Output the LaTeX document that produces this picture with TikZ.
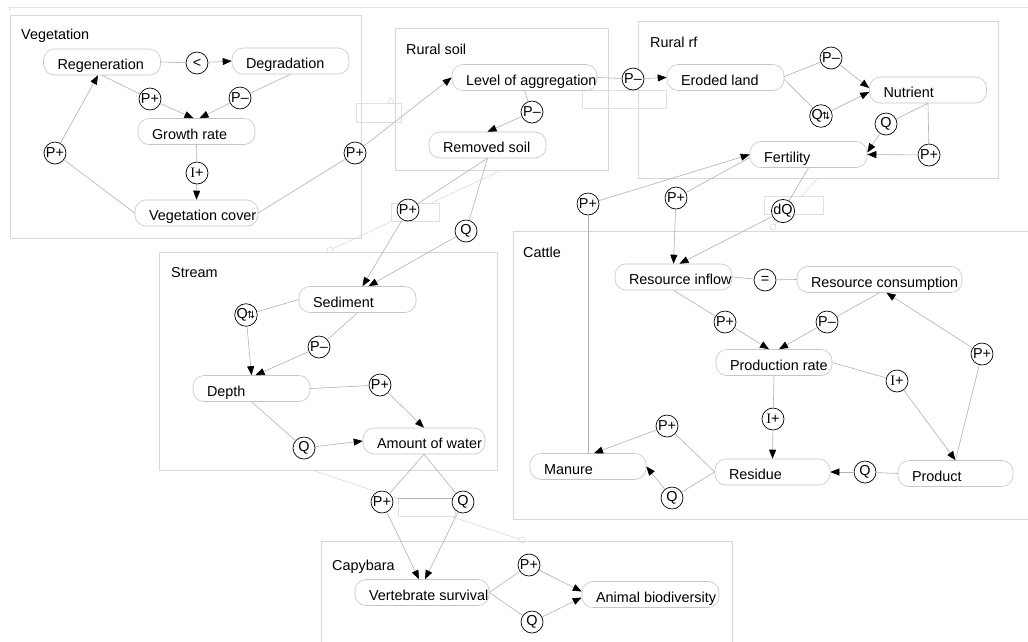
\documentclass[tikz,border=0pt]{standalone}
\usepackage{fontspec}
\setmainfont{Liberation Sans}
\newfontfamily\serifI{Liberation Serif}
\newfontfamily\symfam{DejaVu Sans}
\usetikzlibrary{arrows.meta}
\definecolor{boxgray}{HTML}{D8D8D8}
\definecolor{nodegray}{HTML}{C6C6C6}
\definecolor{linegray}{HTML}{B2B2B2}
\definecolor{faintgray}{HTML}{E0E0E0}
\newcommand\ntext[2][89pt]{\hbox to #1{#2\hss}}
\newcommand\qud{Q\kern-1pt{\symfam\fontsize{10}{10}\selectfont ⇅}}
\newcommand\Iplus{{\serifI I}+}
\begin{document}
\begin{tikzpicture}[x=1pt,y=-1pt,
  every node/.style={font=\fontsize{14.4}{16}\selectfont},
  qnode/.style={draw=nodegray, fill=white, rounded corners=11pt, inner xsep=14pt, inner ysep=0pt, minimum height=26pt, text height=16pt, text depth=1pt, line width=0.6pt},
  qcirc/.style={draw=black, fill=white, circle, inner sep=0pt, minimum size=22pt, line width=0.7pt},
  frame/.style={draw=boxgray, line width=0.8pt},
  conn/.style={draw=linegray, line width=0.6pt},
  arr/.style={conn, -{Triangle[length=9pt,width=7pt,color=black]}},
  faint/.style={draw=faintgray, line width=0.7pt},
  artbox/.style={draw=faintgray, fill=white, line width=0.7pt},
  boxlabel/.style={anchor=west, inner sep=0pt},
]
\useasboundingbox (0,0) rectangle (1028,641);
\clip (0,0) rectangle (1028,641);
\fill[white] (0,0) rectangle (1028,641);

% outer top line
\draw[faint] (9,12) -- (9,7) -- (1040,7);

% interaction lines between subsystems
\coordinate (i1a) at (500,171); \coordinate (i1b) at (330,250);
\coordinate (i2a) at (818,178); \coordinate (i2b) at (773,227);
\coordinate (i3a) at (312,470); \coordinate (i3b) at (522,540);
\draw[faint] (i1a) -- (i1b);
\draw[faint] (i2a) -- (i2b);
\draw[faint] (i3a) -- (i3b);
\draw[faint, fill=white] (i1b) circle (3);
\draw[faint, fill=white] (i2b) circle (3);
\draw[faint, fill=white] (i3b) circle (3);

% leftover label boxes
\draw[artbox] (356,103) rectangle (401,122);
\draw[faint, fill=white] (391,101) circle (2.5);
\draw[artbox] (582,90) rectangle (666,108);
\draw[artbox] (391,203) rectangle (439,221);
\draw[artbox] (764,196) rectangle (823,214);
\draw[artbox] (398,498) rectangle (455,516);
\draw[conn] (398,498) -- (455,498);

% subsystem frames
\draw[frame] (10,15) rectangle (361,238);
\draw[frame] (395,28) rectangle (608,170);
\draw[frame] (638,21) rectangle (998,178);
\draw[frame] (159,252) rectangle (497,470);
\draw[frame] (513,231) rectangle (1040,519);
\draw[frame] (321,541) rectangle (732,660);

\node[boxlabel] (lveg) at (21,36) {Vegetation};
\node[boxlabel] (lrs) at (406,49) {Rural soil};
\node[boxlabel] (lrf) at (650,42) {Rural rf};
\node[boxlabel] (lst) at (171,273) {Stream};
\node[boxlabel] (lca) at (523,252) {Cattle};
\node[boxlabel] (lcy) at (332,567) {Capybara};

% quantities
\node[qnode] (reg) at (102,62) {\ntext{Regeneration}};
\node[qnode] (deg) at (290.5,61) {\ntext{Degradation}};
\node[qnode] (gr) at (196.5,131.5) {\ntext{Growth rate}};
\node[qnode] (vc) at (196.5,213) {\ntext[95pt]{Vegetation cover}};
\node[qnode] (loa) at (524.5,77.5) {\ntext[117pt]{Level of aggregation}};
\node[qnode] (rs) at (487.5,145) {\ntext{Removed soil}};
\node[qnode] (el) at (725.5,77.5) {\ntext{Eroded land}};
\node[qnode] (nut) at (928,90) {\ntext{Nutrient}};
\node[qnode] (fert) at (808.5,154.5) {\ntext{Fertility}};
\node[qnode] (ri) at (673.5,277) {\ntext{Resource inflow}};
\node[qnode] (rc) at (879.5,279.5) {\ntext[137pt]{Resource consumption}};
\node[qnode] (pr) at (774,362.5) {\ntext[88pt]{Production rate}};
\node[qnode] (res) at (772.5,472) {\ntext[87pt]{Residue}};
\node[qnode] (prod) at (955.5,473.5) {\ntext[87pt]{Product}};
\node[qnode] (man) at (588,466.5) {\ntext[88pt]{Manure}};
\node[qnode] (sed) at (357.5,299.5) {\ntext{Sediment}};
\node[qnode] (dep) at (251.5,388.5) {\ntext{Depth}};
\node[qnode] (aw) at (424,441) {\ntext[94pt]{Amount of water}};
\node[qnode] (vs) at (422,592.5) {\ntext[106pt]{Vertebrate survival}};
\node[qnode] (ab) at (650.5,594.5) {\ntext[109pt]{Animal biodiversity}};

% dependencies (circles)
\node[qcirc] (lt) at (197,63) {<};
\node[qcirc] (vp1) at (150,99) {P+};
\node[qcirc] (vm1) at (240,98) {P\textendash};
\node[qcirc] (vi) at (197,173) {\Iplus};
\node[qcirc] (vp2) at (55,153) {P+};
\node[qcirc] (vp3) at (355,153) {P+};
\node[qcirc] (sm1) at (633,79) {P\textendash};
\node[qcirc] (sm2) at (532,112) {P\textendash};
\node[qcirc] (rm) at (831,58) {P\textendash};
\node[qcirc] (rq) at (821,116) {\qud};
\node[qcirc] (rq2) at (886,124) {Q};
\node[qcirc] (rp) at (929,155) {P+};
\node[qcirc] (dq) at (783,211) {dQ};
\node[qcirc] (fp1) at (676,198) {P+};
\node[qcirc] (fp2) at (588,204) {P+};
\node[qcirc] (sp) at (408,210) {P+};
\node[qcirc] (sq) at (466,231) {Q};
\node[qcirc] (qd) at (246,315) {\qud};
\node[qcirc] (pm) at (319,347) {P\textendash};
\node[qcirc] (pp) at (380,385) {P+};
\node[qcirc] (qq) at (304,448) {Q};
\node[qcirc] (ap) at (382,502) {P+};
\node[qcirc] (aq) at (463,502) {Q};
\node[qcirc] (cp) at (529,565) {P+};
\node[qcirc] (cq) at (532,622) {Q};
\node[qcirc] (eq) at (765,280) {=};
\node[qcirc] (cp1) at (725,322) {P+};
\node[qcirc] (cm1) at (827,322) {P\textendash};
\node[qcirc] (ci1) at (897,381) {\Iplus};
\node[qcirc] (ci2) at (773,419) {\Iplus};
\node[qcirc] (cp2) at (982,354) {P+};
\node[qcirc] (cq1) at (865,472) {Q};
\node[qcirc] (cp3) at (667,426) {P+};
\node[qcirc] (cq2) at (672,498) {Q};

% Vegetation
\draw[conn] (reg.east) -- (lt);
\draw[arr] (lt) -- (deg.west);
\draw[conn] (reg.south) -- (vp1);
\draw[arr] (vp1) -- ([xshift=-3pt]gr.north);
\draw[conn] (deg.south) -- (vm1);
\draw[arr] (vm1) -- ([xshift=3pt]gr.north);
\draw[conn] (gr.south) -- (vi);
\draw[arr] (vi) -- (vc.north);
\draw[conn] (vc.west) -- (vp2);
\draw[arr] (vp2) -- ([xshift=-4pt]reg.south);
\draw[conn] (vc.east) -- (vp3);
\draw[arr] (vp3) -- (loa.west);
% Rural soil
\draw[conn] (loa.east) -- (sm1);
\draw[arr] (sm1) -- (el.west);
\draw[conn] (loa.south) -- (sm2);
\draw[arr] (sm2) -- (rs.north);
\draw[conn] (rs.south) -- (sp);
\draw[conn] (rs.south) -- (sq);
\draw[arr] (sp) -- ([xshift=5pt]sed.north);
\draw[arr] (sq) -- ([xshift=11pt]sed.north);
% Rural rf
\draw[conn] ([yshift=1pt]el.east) -- (rm);
\draw[arr] (rm) -- ([yshift=2pt]nut.west);
\draw[conn] ([yshift=-2pt]el.east) -- (rq);
\draw[arr] (rq) -- ([yshift=-2pt]nut.west);
\draw[conn] (nut.south) -- (rq2);
\draw[arr] (rq2) -- ([yshift=2pt]fert.east);
\draw[conn] (nut.south) -- (rp);
\draw[arr] (rp) -- (fert.east);
\draw[conn] (fert.south) -- (dq);
\draw[arr] (dq) -- ([xshift=6pt]ri.north);
\draw[conn] ([yshift=-3pt]fert.west) -- (fp1);
\draw[arr] (fp1) -- (ri.north);
\draw[conn] (man.north) -- (fp2);
\draw[arr] (fp2) -- (fert.west);
% Cattle
\draw[conn] (ri.east) -- (eq);
\draw[conn] (eq) -- (rc.west);
\draw[conn] (ri.south) -- (cp1);
\draw[arr] (cp1) -- ([xshift=-5pt]pr.north);
\draw[conn] (rc.south) -- (cm1);
\draw[arr] (cm1) -- ([xshift=5pt]pr.north);
\draw[conn] (pr.east) -- (ci1);
\draw[arr] (ci1) -- (prod.north);
\draw[conn] (pr.south) -- (ci2);
\draw[arr] (ci2) -- (res.north);
\draw[conn] (prod.north) -- (cp2);
\draw[arr] (cp2) -- ([xshift=7pt]rc.south);
\draw[conn] (prod.west) -- (cq1);
\draw[arr] (cq1) -- (res.east);
\draw[conn] (res.west) -- (cp3);
\draw[arr] (cp3) -- ([xshift=6pt]man.north);
\draw[conn] (res.west) -- (cq2);
\draw[arr] (cq2) -- (man.east);
% Stream
\draw[conn] (sed.west) -- (qd);
\draw[arr] (qd) -- (dep.north);
\draw[conn] (sed.south) -- (pm);
\draw[arr] (pm) -- ([xshift=4pt]dep.north);
\draw[conn] (dep.east) -- (pp);
\draw[arr] (pp) -- (aw.north);
\draw[conn] (dep.south) -- (qq);
\draw[arr] (qq) -- (aw.west);
\draw[conn] (aw.south) -- (ap);
\draw[conn] (aw.south) -- (aq);
\draw[arr] (ap) -- ([xshift=-3pt]vs.north);
\draw[arr] (aq) -- ([xshift=3pt]vs.north);
% Capybara
\draw[conn] (vs.east) -- (cp);
\draw[conn] (vs.east) -- (cq);
\draw[arr] (cp) -- ([yshift=3pt]ab.west);
\draw[arr] (cq) -- ([yshift=-3pt]ab.west);
\end{tikzpicture}
\end{document}
